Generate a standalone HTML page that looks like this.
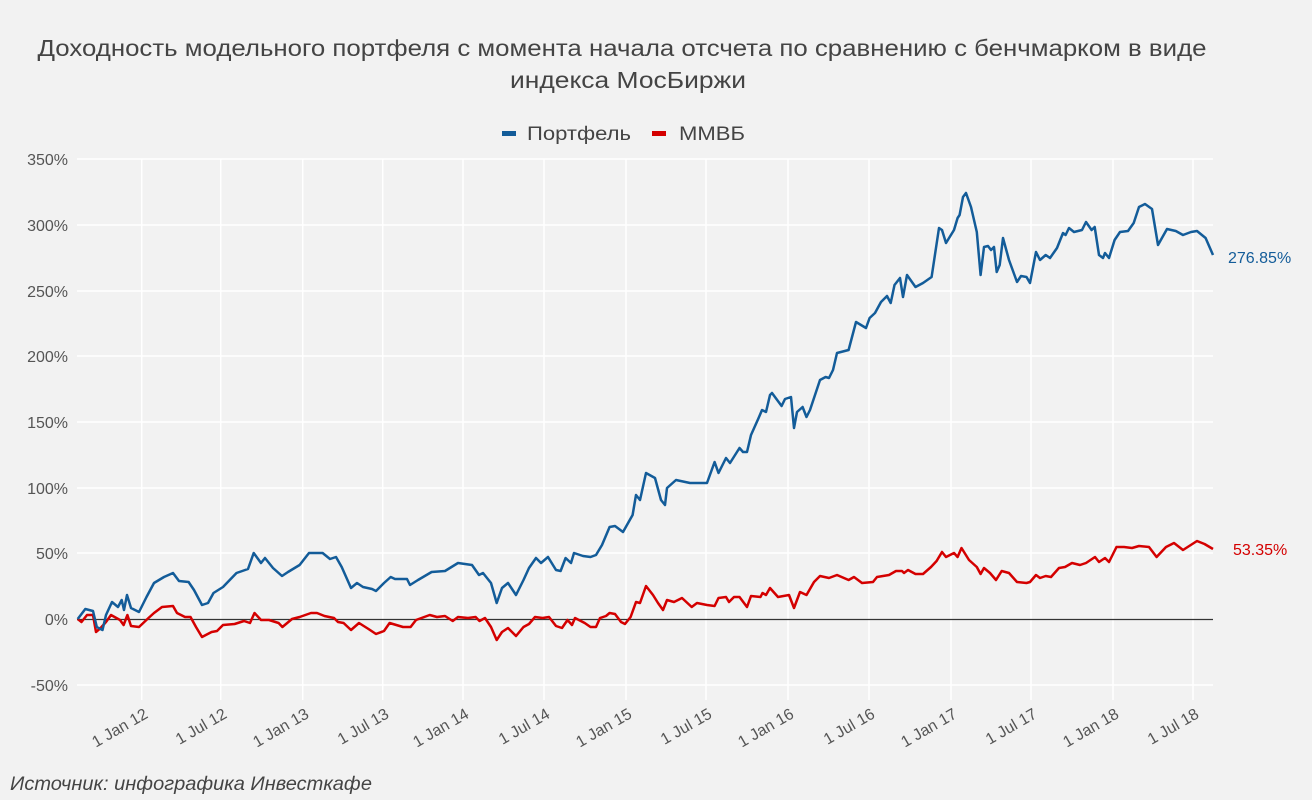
<!DOCTYPE html>
<html><head><meta charset="utf-8"><style>
html,body{margin:0;padding:0;background:#f2f2f2;}
svg{display:block;font-family:"Liberation Sans",Arial,sans-serif;}
</style></head><body>
<svg width="1312" height="800" viewBox="0 0 1312 800" xmlns="http://www.w3.org/2000/svg">
<rect width="1312" height="800" fill="#f2f2f2"/>
<g fill="#444" font-size="23" text-anchor="middle">
<text x="622" y="56" textLength="1169" lengthAdjust="spacingAndGlyphs">Доходность модельного портфеля с момента начала отсчета по сравнению с бенчмарком в виде</text>
<text x="628" y="88" textLength="236" lengthAdjust="spacingAndGlyphs">индекса МосБиржи</text>
</g>
<rect x="502" y="131" width="14" height="5" fill="#135c99"/>
<text x="527" y="140" font-size="19" fill="#444" textLength="104" lengthAdjust="spacingAndGlyphs">Портфель</text>
<rect x="652" y="131" width="14" height="5" fill="#d40000"/>
<text x="679" y="140" font-size="19" fill="#444" textLength="66" lengthAdjust="spacingAndGlyphs">ММВБ</text>
<g stroke="#fff" stroke-width="1.5">
<line x1="77" x2="1213" y1="159" y2="159"/><line x1="77" x2="1213" y1="225" y2="225"/>
<line x1="77" x2="1213" y1="291" y2="291"/><line x1="77" x2="1213" y1="356" y2="356"/>
<line x1="77" x2="1213" y1="422" y2="422"/><line x1="77" x2="1213" y1="488" y2="488"/>
<line x1="77" x2="1213" y1="553" y2="553"/><line x1="77" x2="1213" y1="685" y2="685"/>
<line x1="141.7" x2="141.7" y1="159" y2="700"/><line x1="220.7" x2="220.7" y1="159" y2="700"/>
<line x1="302.7" x2="302.7" y1="159" y2="700"/><line x1="382.7" x2="382.7" y1="159" y2="700"/>
<line x1="463" x2="463" y1="159" y2="700"/><line x1="544" x2="544" y1="159" y2="700"/>
<line x1="626" x2="626" y1="159" y2="700"/><line x1="706" x2="706" y1="159" y2="700"/>
<line x1="788" x2="788" y1="159" y2="700"/><line x1="869" x2="869" y1="159" y2="700"/>
<line x1="951" x2="951" y1="159" y2="700"/><line x1="1031" x2="1031" y1="159" y2="700"/>
<line x1="1113" x2="1113" y1="159" y2="700"/><line x1="1193" x2="1193" y1="159" y2="700"/>
</g>
<line x1="77" x2="1213" y1="619.5" y2="619.5" stroke="#333" stroke-width="1.2"/>
<g fill="#555" font-size="16" text-anchor="end">
<text x="68" y="165">350%</text><text x="68" y="231">300%</text><text x="68" y="297">250%</text>
<text x="68" y="362">200%</text><text x="68" y="428">150%</text><text x="68" y="494">100%</text>
<text x="68" y="559">50%</text><text x="68" y="625">0%</text><text x="68" y="691">-50%</text>
</g>
<g fill="#555" font-size="16" text-anchor="end">
<text transform="translate(149,717) rotate(-30)">1 Jan 12</text>
<text transform="translate(228,717) rotate(-30)">1 Jul 12</text>
<text transform="translate(310,717) rotate(-30)">1 Jan 13</text>
<text transform="translate(390,717) rotate(-30)">1 Jul 13</text>
<text transform="translate(470,717) rotate(-30)">1 Jan 14</text>
<text transform="translate(551,717) rotate(-30)">1 Jul 14</text>
<text transform="translate(633,717) rotate(-30)">1 Jan 15</text>
<text transform="translate(713,717) rotate(-30)">1 Jul 15</text>
<text transform="translate(795,717) rotate(-30)">1 Jan 16</text>
<text transform="translate(876,717) rotate(-30)">1 Jul 16</text>
<text transform="translate(958,717) rotate(-30)">1 Jan 17</text>
<text transform="translate(1038,717) rotate(-30)">1 Jul 17</text>
<text transform="translate(1120,717) rotate(-30)">1 Jan 18</text>
<text transform="translate(1200,717) rotate(-30)">1 Jul 18</text>
</g>
<polyline fill="none" stroke="#d40000" stroke-width="2.5" stroke-linejoin="round" points="77.7,619 81.5,622 87,615 93,615 96,632 100.6,628 106,622 111,615 120,620 123.6,625 127.4,615 131,626 139,627 148.5,618 154,613 158,610 162,607 173,606 177,613 185,617 190.5,617 196,627 202,637 211.6,632 217,631 223,625 234.6,624 244,621 250,623 254.5,613 261,620 269,620 278.6,623 282.4,627 292,619 299.6,617 311,613 317,613 324.5,616 334,618 338,622 343.6,623 351,630 359,623 368.5,629 376,634 384,631 389.6,623 403,627 410.6,627 416,620 429.7,615 437,617 445,616 452.7,621 458,617 468,618 475.6,617 479.5,621 485,618 491,627 496.7,640 502,632 508,628 516,636 523.5,627 529,624 535,617 542.6,618 549,617 556,626 562,628 567.5,620 572,625 575,618 584.7,623 590.5,627 596,627 600,618 606,616 609.6,613 615,614 621,622 625,624 630.6,617 636,602 640,603 646,586 653,595 658,603 663,610 667,600 674,602 682,598 691.7,607 697,603 707,605 714.6,606 718.5,598 726,597 729,602 734,597 739.5,597 747,607 751,596 760.5,597 762.5,593 766,595 770,588 778,597 789,595 794,608 800,592 806.5,595 814,582 820,576 829,578 837,575 848.6,580 854,577 862,583 873,582 877,577 889,575 896,571 902,571 904,573 908,570 915.5,574 923,574 931,567 936.6,561 942,552 946,557 954,553 957.6,557 961.5,548 969,560 976.8,567 980.6,574 984,568 990,573 996,580 1001.7,571 1009,573 1017,582 1026.5,583 1030,582 1036,575 1040,578 1045.7,576 1051,577 1059,568 1065,567 1072,563 1080,565 1086,563 1095,557 1099,562 1105,558 1109,562 1116.5,547 1124,547 1132,548 1139,546 1149,547 1156.6,557 1166,547 1174,543 1183,550 1197,541 1204.5,544 1213,549"/>
<polyline fill="none" stroke="#135c99" stroke-width="2.5" stroke-linejoin="round" points="77.7,619 85.3,609 93,611 96.8,627 102.5,630 106,615 112,602 118,607 121.7,600 124,610 127,595 131,608 139,612 146.5,597 154,583 164,577 173,573 179,581 188.6,582 194,590 202,605 208,603 213.5,593 223,587 236.5,573 248,569 253.7,553 261,563 265,558 273,568 282,576 288,572 299.6,565 309,553 322.6,553 330,559 336,557 341.7,567 351,588 357,583 363,587 372,589 376,591 384,583 390.7,577 395,579 407,579 410,585 418,580 431.6,572 445,571 458,563 472,565 479,575 483,573 491,583 496.7,603 502,588 508,583 516,595 523.5,580 529,568 536,558 541,563 548,557 556,570 560.6,571 565.6,558 571,563 574,553 583,556 590.5,557 596,555 602,545 609.6,527 615,526 623,532 632.6,515 636,495 640,500 646,473 655,478 661,500 665,505 667,488 676,480 690,483 695.5,483 707,483 714.6,462 718.5,473 726,458 730,463 739.5,448 743,452 747,452 751,435 758.6,418 762,410 766,412 770,395 772,393 781.6,406 785,399 791,397 794,428 797,412 802.6,407 806.5,417 810,410 820,380 825.6,377 829,378 833,370 837,353 848.6,350 856,322 866,328 869.6,318 875,313 881,302 887,296 890.7,303 894.5,285 900,278 903,297 907,275 915.5,287 923,283 931.6,277 939,228 942,230 946,243 954,230 957.6,218 959.6,215 963,197 966,193 971,207 976.8,232 980.6,275 984,247 988,246 991,250 994,247 996.7,272 999.7,265 1003,238 1009,260 1017,282 1021,276 1026.5,277 1030,283 1036,252 1040,260 1045.7,255 1050,258 1057,248 1063,233 1065.6,235 1069,228 1074,232 1082,230 1086,222 1091.6,230 1094.7,227 1099,255 1103,258 1105,253 1109,258 1114.6,240 1120,232 1128,231 1133.7,223 1139,207 1145,204 1152,209 1158,245 1167,229 1175.8,231 1183,235 1191,232 1197,231 1205.6,238 1213,255"/>
<text x="1228" y="263" font-size="16" fill="#135c99">276.85%</text>
<text x="1233" y="555" font-size="16" fill="#d40000">53.35%</text>
<text x="10" y="790" font-size="19" font-style="italic" fill="#444" textLength="362" lengthAdjust="spacingAndGlyphs">Источник: инфографика Инвесткафе</text>
</svg>
</body></html>
